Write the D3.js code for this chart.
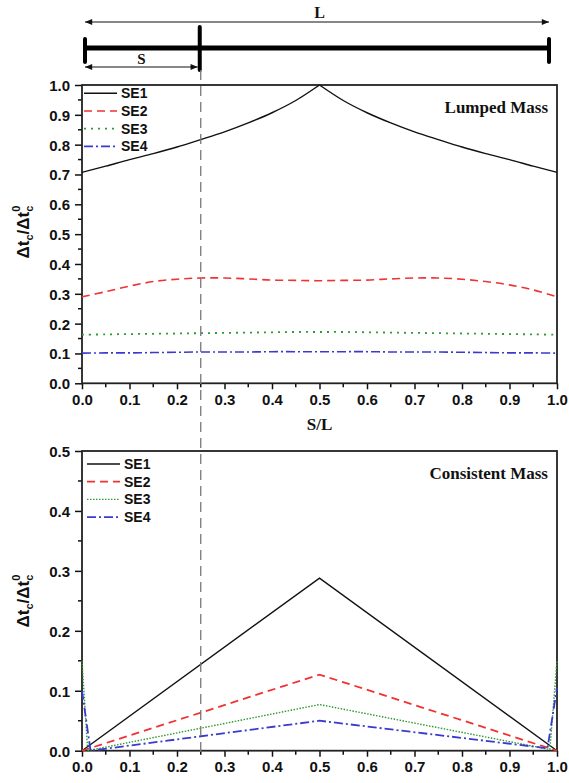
<!DOCTYPE html>
<html>
<head>
<meta charset="utf-8">
<script src="https://cdn.jsdelivr.net/npm/d3@7.9.0/dist/d3.min.js"></script>
<style>
  body { margin: 0; background: #fff; }
  svg text { font-family: Arial, "Liberation Sans", sans-serif; }
  .tick-label { font-size: 15px; font-weight: bold; fill: #111; }
  .serif { font-family: "Liberation Serif", "Times New Roman", serif !important; font-weight: bold; fill: #111; }
</style>
</head>
<body>
<svg id="chart" width="569" height="783"></svg>
<script>
// S/L positions for the lumped-mass curves
const sLumped = [0, 0.05, 0.1, 0.15, 0.2, 0.25, 0.3, 0.35, 0.4, 0.45, 0.5,
  0.55, 0.6, 0.65, 0.7, 0.75, 0.8, 0.85, 0.9, 0.95, 1.0];
const lumpedSE1 = [0.707, 0.728, 0.75, 0.77, 0.792, 0.817, 0.843, 0.873, 0.907, 0.948, 1.0,
  0.948, 0.907, 0.873, 0.843, 0.817, 0.792, 0.77, 0.75, 0.728, 0.707];
const lumpedSE2 = [0.29, 0.307, 0.326, 0.341, 0.349, 0.353, 0.353, 0.35, 0.346, 0.345, 0.344,
  0.345, 0.346, 0.35, 0.353, 0.353, 0.349, 0.341, 0.33, 0.313, 0.29];
const lumpedSE3 = [0.163, 0.164, 0.165, 0.166, 0.167, 0.168, 0.169, 0.17, 0.171, 0.172, 0.172,
  0.172, 0.171, 0.17, 0.169, 0.168, 0.167, 0.166, 0.165, 0.164, 0.163];
const lumpedSE4 = [0.101, 0.102, 0.102, 0.103, 0.104, 0.105, 0.105, 0.105, 0.106, 0.106, 0.106,
  0.106, 0.106, 0.105, 0.105, 0.105, 0.104, 0.103, 0.102, 0.102, 0.101];

// consistent mass: each series has its own S/L points
const consSE1x = [0, 0.5, 1.0];
const consSE1 = [0, 0.288, 0];
const consSE2x = [0, 0.5, 1.0];
const consSE2 = [0, 0.127, 0];
const consSE3x = [0, 0.012, 0.5, 0.985, 1.0];
const consSE3 = [0.15, 0, 0.077, 0.002, 0.15];
const consSE4x = [0, 0.018, 0.5, 0.98, 1.0];
const consSE4 = [0.1, 0, 0.05, 0.004, 0.105];

const seriesNames = ['SE1', 'SE2', 'SE3', 'SE4'];
const xTicks = [0, 0.1, 0.2, 0.3, 0.4, 0.5, 0.6, 0.7, 0.8, 0.9, 1.0];
const yTicksTop = [0, 0.1, 0.2, 0.3, 0.4, 0.5, 0.6, 0.7, 0.8, 0.9, 1.0];
const yTicksBottom = [0, 0.1, 0.2, 0.3, 0.4, 0.5];

const styles = [
  { color: '#111', dash: null, width: 1.4 },
  { color: '#f03232', dash: '8,5', width: 1.6 },
  { color: '#2f9a2f', dash: '2,5', width: 1.8 },
  { color: '#3a3ad0', dash: '9,3,2,3', width: 1.6 },
];

const svg = d3.select('#chart');
const left = 82, right = 557;
const x = d3.scaleLinear().domain([0, 1]).range([left, right]);

// ---- beam sketch at the top ----
const sketch = svg.append('g');
const defs = svg.append('defs');
defs.append('marker').attr('id', 'arr').attr('viewBox', '0 0 10 10')
  .attr('refX', 10).attr('refY', 5).attr('markerWidth', 7).attr('markerHeight', 6)
  .attr('orient', 'auto-start-reverse')
  .append('path').attr('d', 'M0,1 L10,5 L0,9 Z').attr('fill', '#111');

sketch.append('line').attr('x1', x(0) + 3).attr('x2', x(1) - 8).attr('y1', 22).attr('y2', 22)
  .attr('stroke', '#111').attr('stroke-width', 1.2)
  .attr('marker-start', 'url(#arr)').attr('marker-end', 'url(#arr)');
sketch.append('text').attr('class', 'serif').attr('x', x(0.5)).attr('y', 18)
  .attr('text-anchor', 'middle').attr('font-size', 16).text('L');

sketch.append('line').attr('x1', x(0) + 3).attr('x2', x(1) - 8).attr('y1', 48).attr('y2', 48)
  .attr('stroke', '#000').attr('stroke-width', 5);
[x(0) + 3, x(1) - 8].forEach((px) => {
  sketch.append('line').attr('x1', px).attr('x2', px).attr('y1', 39).attr('y2', 62)
    .attr('stroke', '#000').attr('stroke-width', 4).attr('stroke-linecap', 'round');
});
sketch.append('line').attr('x1', x(0.25) - 1).attr('x2', x(0.25) - 1).attr('y1', 27).attr('y2', 70)
  .attr('stroke', '#000').attr('stroke-width', 4).attr('stroke-linecap', 'round');

sketch.append('line').attr('x1', x(0) + 3).attr('x2', x(0.25) - 3).attr('y1', 67).attr('y2', 67)
  .attr('stroke', '#111').attr('stroke-width', 1.2)
  .attr('marker-start', 'url(#arr)').attr('marker-end', 'url(#arr)');
sketch.append('text').attr('class', 'serif').attr('x', x(0.125)).attr('y', 64)
  .attr('text-anchor', 'middle').attr('font-size', 15).attr('font-weight', 'normal').text('S');

// ---- panel drawing ----
function drawPanel(cfg) {
  const y = d3.scaleLinear().domain(cfg.yDomain).range([cfg.bottom, cfg.top]);
  const g = svg.append('g');

  // minor ticks
  const minorX = d3.range(0.05, 1, 0.1);
  g.selectAll('.mx').data(minorX).join('line')
    .attr('x1', (d) => x(d)).attr('x2', (d) => x(d))
    .attr('y1', cfg.bottom).attr('y2', cfg.bottom + 4)
    .attr('stroke', '#111').attr('stroke-width', 1.5);
  const minorY = d3.range(cfg.yDomain[0] + 0.05, cfg.yDomain[1], 0.1);
  g.selectAll('.my').data(minorY).join('line')
    .attr('x1', left - 4).attr('x2', left)
    .attr('y1', (d) => y(d)).attr('y2', (d) => y(d))
    .attr('stroke', '#111').attr('stroke-width', 1.5);

  const xAxis = d3.axisBottom(x).tickValues(xTicks).tickFormat(d3.format('.1f'))
    .tickSizeInner(6).tickSizeOuter(0).tickPadding(5);
  const yAxis = d3.axisLeft(y).tickValues(cfg.yTicks).tickFormat(d3.format('.1f'))
    .tickSizeInner(7).tickSizeOuter(0).tickPadding(5);

  const gx = g.append('g').attr('transform', `translate(0,${cfg.bottom})`).call(xAxis);
  const gy = g.append('g').attr('transform', `translate(${left},0)`).call(yAxis);
  [gx, gy].forEach((ax) => {
    ax.select('.domain').remove();
    ax.selectAll('.tick line').attr('stroke', '#111').attr('stroke-width', 1.5);
    ax.selectAll('.tick text').attr('class', 'tick-label').attr('fill', '#111')
      .style('font-size', '15px').style('font-weight', 'bold');
  });
  gy.selectAll('.tick text').attr('dy', '0.36em');

  // frame
  g.append('rect').attr('x', left).attr('y', cfg.top)
    .attr('width', right - left).attr('height', cfg.bottom - cfg.top)
    .attr('fill', 'none').attr('stroke', '#222').attr('stroke-width', 1.8);

  // curves (split at the cusp so the peak stays sharp)
  cfg.series.forEach((s, i) => {
    const pts = s.xs.map((v, k) => [v, s.ys[k]]);
    const parts = cfg.smooth
      ? [pts.filter((d) => d[0] <= 0.5), pts.filter((d) => d[0] >= 0.5)]
      : [pts];
    const line = d3.line().x((d) => x(d[0])).y((d) => y(d[1]))
      .curve(cfg.smooth ? d3.curveMonotoneX : d3.curveLinear);
    if (cfg.smooth && i > 0) parts.splice(0, 2, pts);
    parts.forEach((p) => {
      g.append('path').datum(p)
        .attr('d', cfg.smooth && i > 0 ? line.curve(d3.curveCatmullRom)(p) : line(p))
        .attr('fill', 'none')
        .attr('stroke', styles[i].color)
        .attr('stroke-width', cfg.widths ? cfg.widths[i] : styles[i].width)
        .attr('stroke-dasharray', cfg.dashes ? cfg.dashes[i] : styles[i].dash);
    });
  });

  // legend
  seriesNames.forEach((name, i) => {
    const ly = cfg.legendY + i * 17.7;
    g.append('line').attr('x1', cfg.legendX).attr('x2', cfg.legendX + 33)
      .attr('y1', ly).attr('y2', ly)
      .attr('stroke', styles[i].color)
      .attr('stroke-width', cfg.widths ? cfg.widths[i] : styles[i].width)
      .attr('stroke-dasharray', cfg.dashes ? cfg.dashes[i] : styles[i].dash);
    g.append('text').attr('x', cfg.legendX + 37).attr('y', ly).attr('dy', '0.36em')
      .attr('font-size', 14).attr('font-weight', 'bold').attr('fill', '#111').text(name);
  });

  // title in the corner
  g.append('text').attr('class', 'serif').attr('x', right - 9).attr('y', cfg.top + 28)
    .attr('text-anchor', 'end').attr('font-size', 17).text(cfg.title);

  // y axis label
  const lab = g.append('text').attr('transform', `translate(29,${cfg.labelY}) rotate(-90)`)
    .attr('text-anchor', 'middle').attr('font-size', 17).attr('font-weight', 'bold').attr('fill', '#111');
  lab.append('tspan').text('Δt');
  lab.append('tspan').attr('font-size', 11).attr('dy', 4).text('c');
  lab.append('tspan').attr('dy', -4).text('/Δt');
  lab.append('tspan').attr('font-size', 11).attr('dy', 4).text('c');
  lab.append('tspan').attr('font-size', 11).attr('dx', -6).attr('dy', -13).text('0');
  return y;
}

drawPanel({
  top: 85, bottom: 383.3, yDomain: [0, 1.0], yTicks: yTicksTop, smooth: true,
  title: 'Lumped Mass', legendX: 84, legendY: 93.3, labelY: 232,
  series: [
    { xs: sLumped, ys: lumpedSE1 },
    { xs: sLumped, ys: lumpedSE2 },
    { xs: sLumped, ys: lumpedSE3 },
    { xs: sLumped, ys: lumpedSE4 },
  ],
});

svg.append('text').attr('class', 'serif').attr('x', x(0.5)).attr('y', 430)
  .attr('text-anchor', 'middle').attr('font-size', 17).text('S/L');

drawPanel({
  top: 451, bottom: 750.7, yDomain: [0, 0.5], yTicks: yTicksBottom,
  title: 'Consistent Mass', legendX: 87, legendY: 464, labelY: 601,
  dashes: [null, '8,5', '1.5,1.5', '9,3,2,3'],
  widths: [1.4, 1.8, 1.4, 1.8],
  series: [
    { xs: consSE1x, ys: consSE1 },
    { xs: consSE2x, ys: consSE2 },
    { xs: consSE3x, ys: consSE3 },
    { xs: consSE4x, ys: consSE4 },
  ],
});

// dashed guide at S/L = 0.25
svg.append('line').attr('x1', x(0.25)).attr('x2', x(0.25)).attr('y1', 70).attr('y2', 757)
  .attr('stroke', '#777').attr('stroke-width', 1.3).attr('stroke-dasharray', '10,6');
</script>
</body>
</html>
